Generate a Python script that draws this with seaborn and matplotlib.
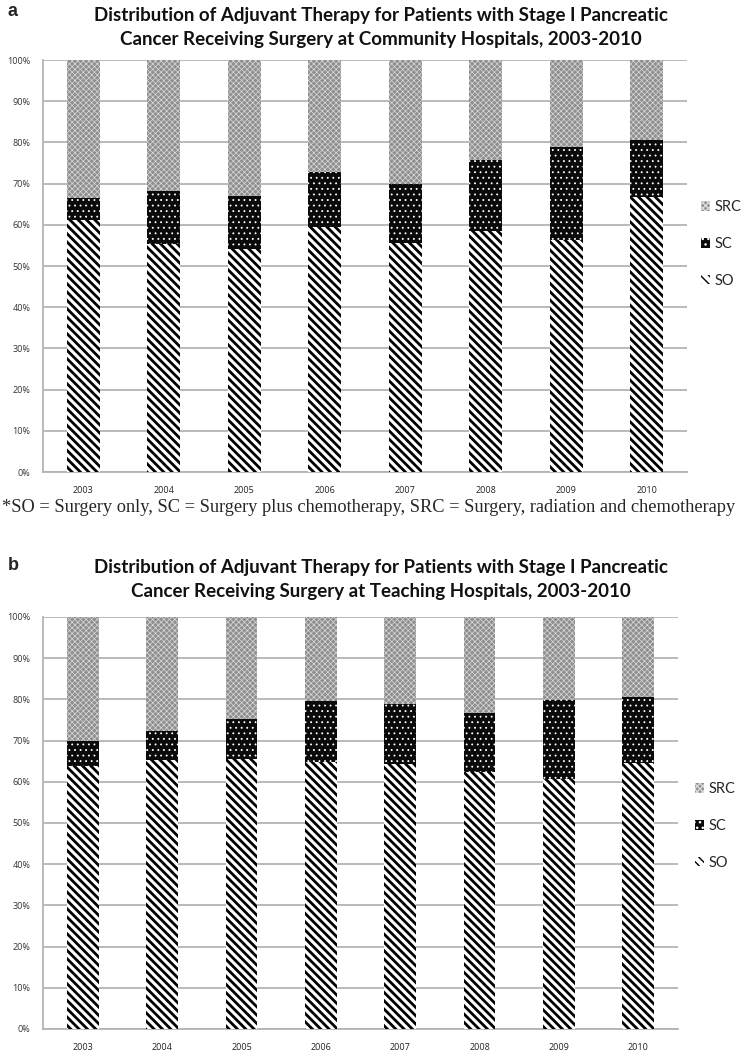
import numpy as np
import pandas as pd
import matplotlib
matplotlib.use("Agg")
import matplotlib.pyplot as plt
from matplotlib.patches import Patch
from matplotlib.ticker import FixedLocator
import seaborn as sns

sns.set_style("white")
plt.rcParams['font.family'] = ['Lato', 'DejaVu Sans']

years = ["2003", "2004", "2005", "2006", "2007", "2008", "2009", "2010"]

# Panel a: community hospitals (percent)
so_a = [61.2, 55.4, 54.2, 59.4, 55.5, 58.5, 56.3, 66.7]
sc_a = [5.3, 12.9, 12.7, 13.5, 14.5, 17.3, 22.7, 13.9]
src_a = [33.5, 31.7, 33.1, 27.1, 30.0, 24.2, 21.0, 19.4]

# Panel b: teaching hospitals (percent)
so_b = [63.9, 65.3, 65.6, 64.9, 64.4, 62.4, 60.6, 64.6]
sc_b = [5.9, 7.0, 9.6, 14.7, 14.4, 14.3, 19.2, 16.0]
src_b = [30.2, 27.7, 24.8, 20.4, 21.2, 23.3, 20.2, 19.4]

yticks = [0, 10, 20, 30, 40, 50, 60, 70, 80, 90, 100]
ytick_labels = [f"{v}%" for v in yticks]

title_a = ["Distribution of Adjuvant Therapy for Patients with Stage I Pancreatic",
           "Cancer Receiving Surgery at Community Hospitals, 2003-2010"]
title_b = ["Distribution of Adjuvant Therapy for Patients with Stage I Pancreatic",
           "Cancer Receiving Surgery at Teaching Hospitals, 2003-2010"]
footnote = "*SO = Surgery only, SC = Surgery plus chemotherapy, SRC = Surgery, radiation and chemotherapy"

W, H = 744, 1050
fig = plt.figure(figsize=(W / 100, H / 100), dpi=100)

GRID = "#b4b4b4"

STYLES = {
    "SRC": dict(face="#8f8f8f", edge="#dadada", hatch="xxxxxx", hlw=0.5),
    "SC": dict(face="#0a0a0a", edge="#ffffff", hatch="...", hlw=0.6),
    "SO": dict(face="#ffffff", edge="#000000", hatch="\\\\\\\\", hlw=2.0),
}


def style_patch(p, key):
    s = STYLES[key]
    p.set_facecolor(s["face"])
    p.set_edgecolor(s["edge"])
    p.set_linewidth(0)
    p.set_hatch(s["hatch"])
    if hasattr(p, "set_hatch_linewidth"):
        p.set_hatch_linewidth(s["hlw"])


def draw_panel(rect, so, sc, src, titles, letter, title_y, legend_xy, width):
    ax = fig.add_axes(rect)
    df = pd.DataFrame({"year": years, "SO": so, "SC": sc, "SRC": src})
    df["top_sc"] = df["SO"] + df["SC"]
    df["total"] = df["top_sc"] + df["SRC"]
    layers = [("total", "SRC"), ("top_sc", "SC"), ("SO", "SO")]
    for col, key in layers:
        n0 = len(ax.patches)
        sns.barplot(data=df, x="year", y=col, order=years, ax=ax, width=width,
                    color="white", linewidth=0, zorder=3)
        for p in ax.patches[n0:]:
            style_patch(p, key)
    ax.set_ylim(0, 100)
    ax.set_xlim(-0.5, len(years) - 0.5)
    ax.set_yticks(yticks)
    ax.set_yticklabels(ytick_labels)
    ax.set_xlabel("")
    ax.set_ylabel("")
    ax.yaxis.grid(True, color=GRID, linewidth=1.3, zorder=0)
    ax.set_axisbelow(True)
    for s in ["top", "right"]:
        ax.spines[s].set_visible(False)
    for s in ["left", "bottom"]:
        ax.spines[s].set_color(GRID)
        ax.spines[s].set_linewidth(1.3)
    ax.tick_params(axis="y", length=3, color=GRID, labelsize=6.5, labelcolor="#333333", pad=6)
    ax.tick_params(axis="x", which="major", length=0, labelsize=6.5, labelcolor="#222222", pad=10)
    ax.xaxis.set_minor_locator(FixedLocator(np.arange(-0.5, len(years), 1.0)))
    ax.tick_params(axis="x", which="minor", length=4, color=GRID, width=1)
    for lab in ax.get_xticklabels() + ax.get_yticklabels():
        lab.set_fontfamily(["Open Sans", "DejaVu Sans"])

    handles = [Patch(facecolor=STYLES[k]["face"], edgecolor=STYLES[k]["edge"],
                     hatch=STYLES[k]["hatch"], linewidth=0) for k in ["SRC", "SC", "SO"]]
    for h, k in zip(handles, ["SRC", "SC", "SO"]):
        if hasattr(h, "set_hatch_linewidth"):
            h.set_hatch_linewidth(min(STYLES[k]["hlw"], 1.0))
    ax.legend(handles, ["SRC", "SC", "SO"], loc="center left",
              bbox_to_anchor=legend_xy, bbox_transform=fig.transFigure,
              frameon=False, fontsize=10.5, handlelength=0.65, handleheight=0.65,
              handletextpad=0.3, labelspacing=1.55, borderpad=0, borderaxespad=0)

    fig.text(8 / W, 1 - (title_y[0] - 3) / H, letter, fontsize=13, fontweight="bold",
             family=["Liberation Sans", "DejaVu Sans"], ha="left", va="center")
    cx = 381 / W
    fig.text(cx, 1 - title_y[0] / H, titles[0], fontsize=13.5, fontweight="bold",
             ha="center", va="center", color="#111111")
    fig.text(cx, 1 - title_y[1] / H, titles[1], fontsize=13.5, fontweight="bold",
             ha="center", va="center", color="#111111")
    return ax


draw_panel([43 / W, 1 - 472 / H, (687 - 43) / W, (472 - 60) / H],
           so_a, sc_a, src_a, title_a, "a", (15, 40), (701 / W, 1 - 244 / H), 0.41)

fig.text(2 / W, 1 - 507 / H, footnote, fontsize=13.2,
         family=["Liberation Serif", "DejaVu Serif"], ha="left", va="center")

draw_panel([43 / W, 1 - 1029 / H, (678 - 43) / W, (1029 - 617) / H],
           so_b, sc_b, src_b, title_b, "b", (568, 592), (695 / W, 1 - 826 / H), 0.40)

fig.savefig("out.png", dpi=100)
